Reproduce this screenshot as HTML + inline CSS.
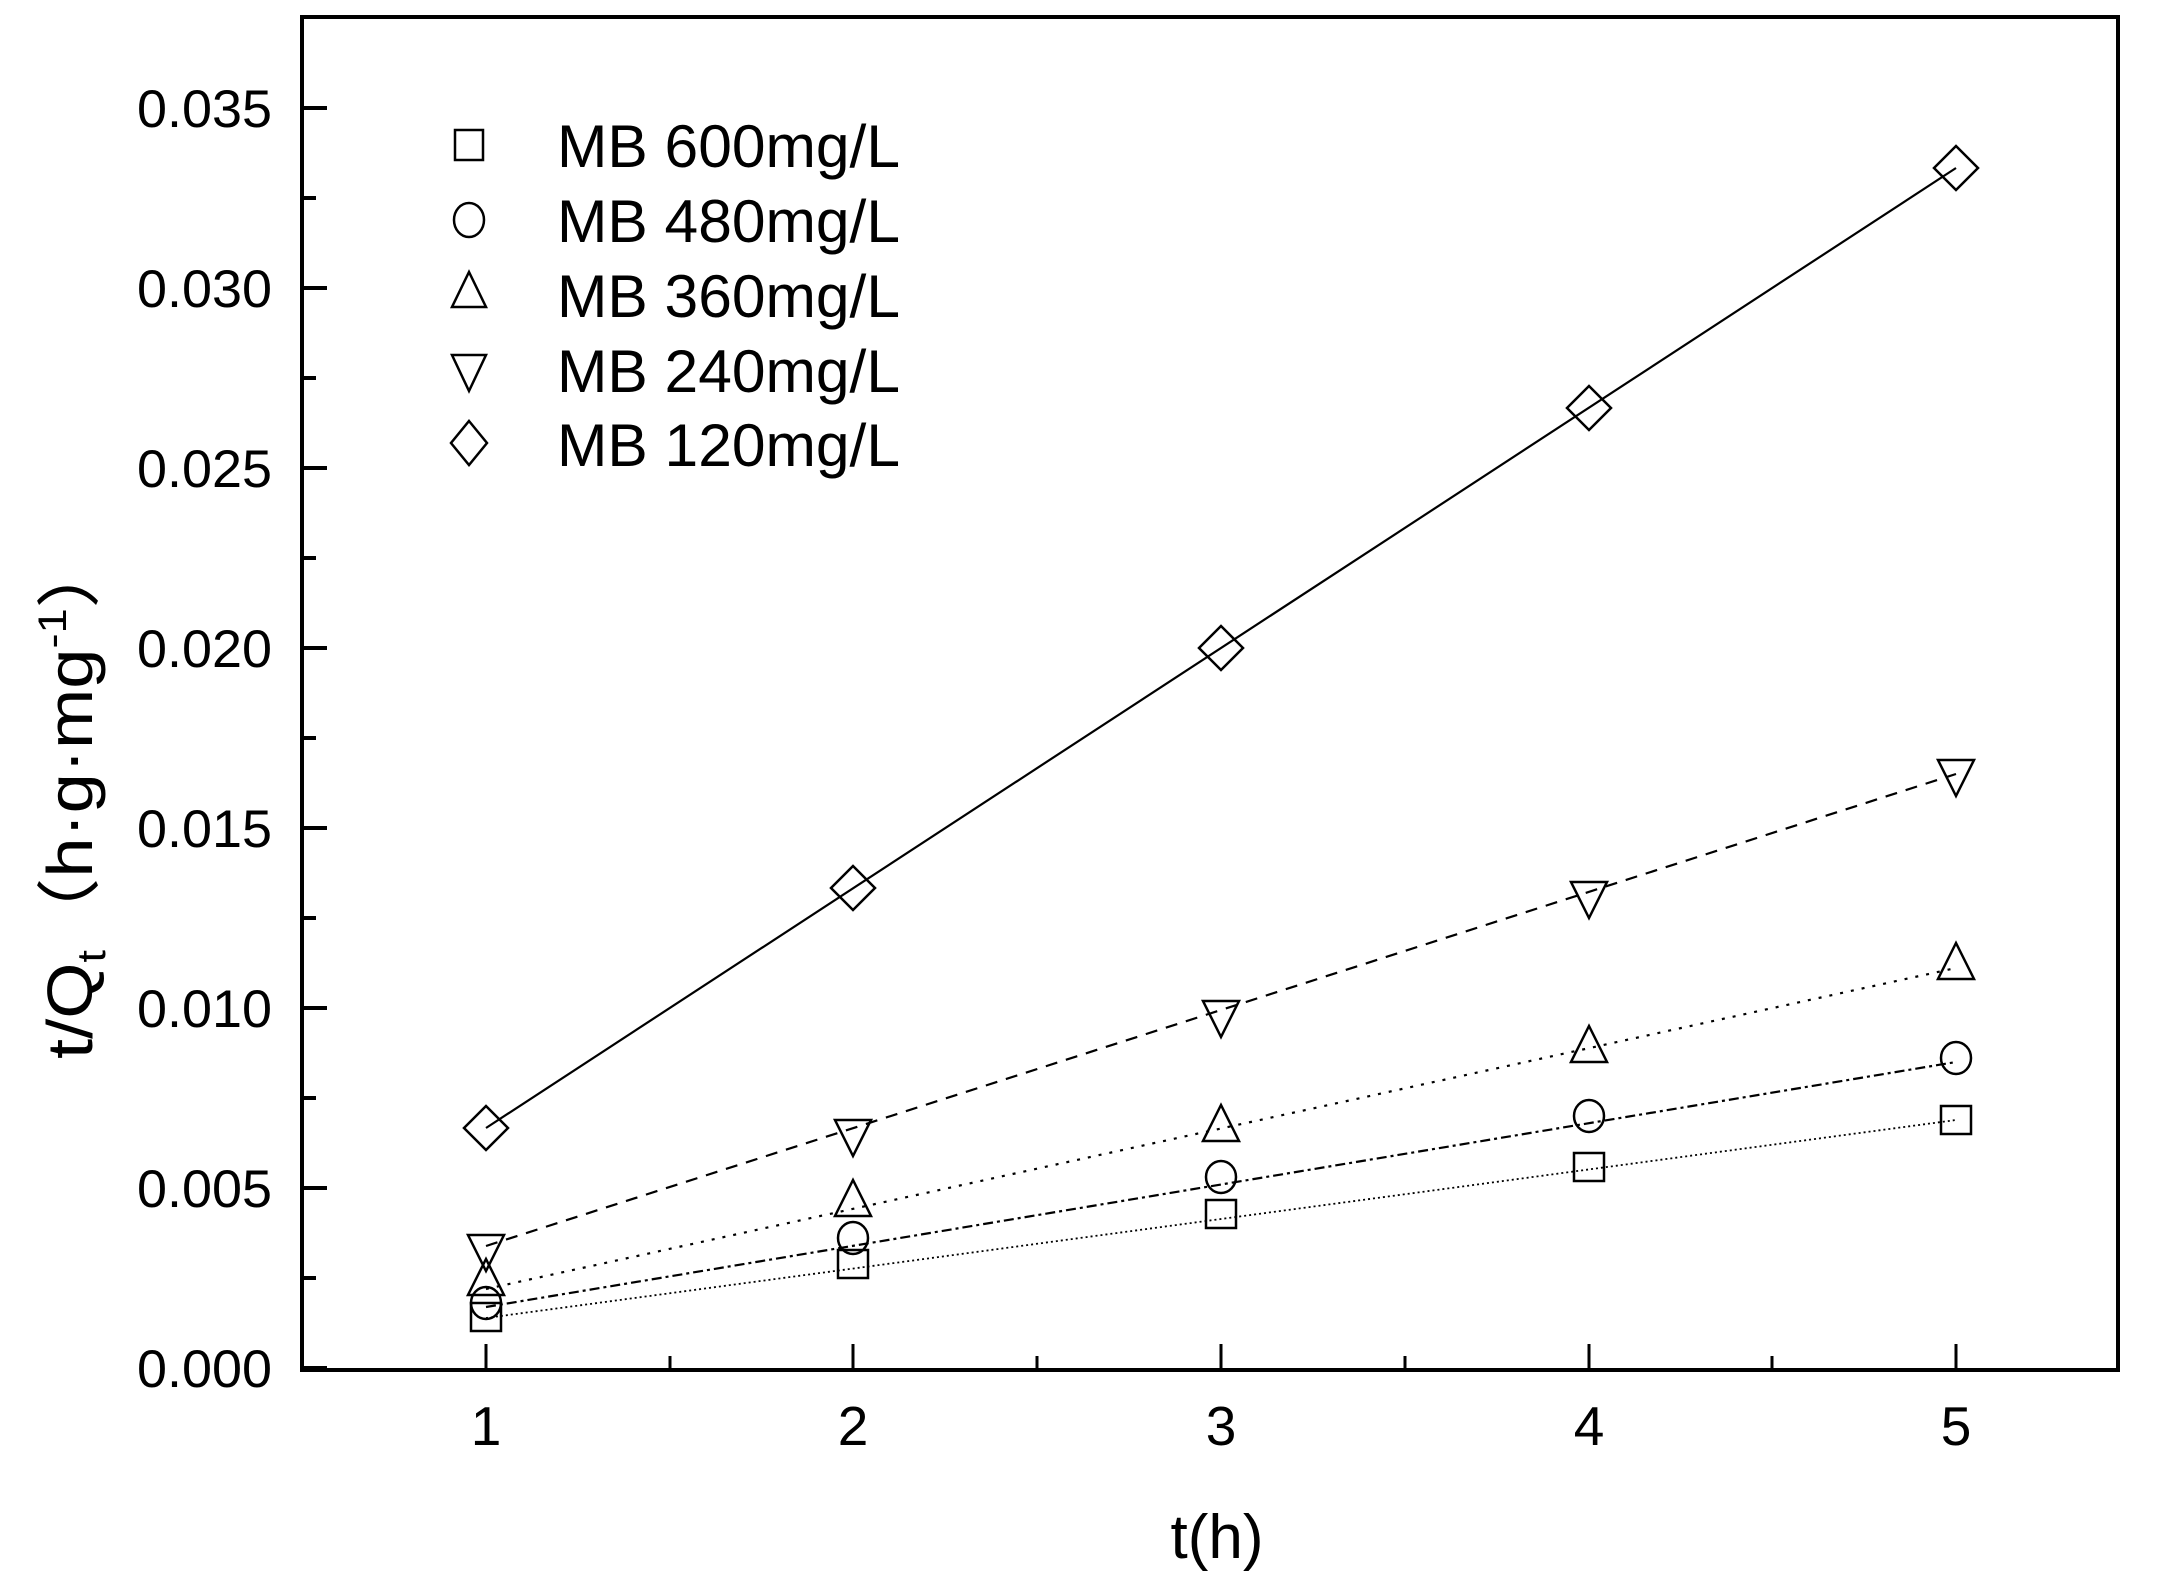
<!DOCTYPE html>
<html><head><meta charset="utf-8"><style>html,body{margin:0;padding:0;background:#fff}svg{display:block}</style></head>
<body>
<svg width="2157" height="1577" viewBox="0 0 2157 1577" xmlns="http://www.w3.org/2000/svg" font-family="Liberation Sans, Arial, sans-serif">
<rect width="2157" height="1577" fill="#fff"/>
<g stroke="#000" fill="none">
<rect x="302" y="17" width="1816" height="1353" stroke-width="4"/>
<g stroke-width="4">
<line x1="302" y1="1368" x2="327" y2="1368"/><line x1="302" y1="1188" x2="327" y2="1188"/>
<line x1="302" y1="1008" x2="327" y2="1008"/><line x1="302" y1="828" x2="327" y2="828"/>
<line x1="302" y1="648" x2="327" y2="648"/><line x1="302" y1="468" x2="327" y2="468"/>
<line x1="302" y1="288" x2="327" y2="288"/><line x1="302" y1="108" x2="327" y2="108"/>
<line x1="302" y1="1278" x2="316" y2="1278"/><line x1="302" y1="1098" x2="316" y2="1098"/>
<line x1="302" y1="918" x2="316" y2="918"/><line x1="302" y1="738" x2="316" y2="738"/>
<line x1="302" y1="558" x2="316" y2="558"/><line x1="302" y1="378" x2="316" y2="378"/>
<line x1="302" y1="198" x2="316" y2="198"/>
</g>
<g stroke-width="3">
<line x1="486" y1="1370" x2="486" y2="1344"/><line x1="853" y1="1370" x2="853" y2="1344"/>
<line x1="1221" y1="1370" x2="1221" y2="1344"/><line x1="1589" y1="1370" x2="1589" y2="1344"/>
<line x1="1956" y1="1370" x2="1956" y2="1344"/>
<line x1="670" y1="1370" x2="670" y2="1356"/><line x1="1037" y1="1370" x2="1037" y2="1356"/>
<line x1="1405" y1="1370" x2="1405" y2="1356"/><line x1="1772" y1="1370" x2="1772" y2="1356"/>
</g>
<line x1="486" y1="1128" x2="1956" y2="168" stroke-width="2.2"/>
<line x1="486" y1="1246" x2="1956" y2="774" stroke-width="2.2" stroke-dasharray="12,9"/>
<line x1="486" y1="1289" x2="1956" y2="968" stroke-width="2.2" stroke-dasharray="3,8"/>
<line x1="486" y1="1307" x2="1956" y2="1062" stroke-width="2.2" stroke-dasharray="10,4,3,4"/>
<line x1="486" y1="1318" x2="1956" y2="1120" stroke-width="1.8" stroke-dasharray="2,3"/>
<g stroke-width="2.5">
<path d="M486 1106 L508 1128 L486 1150 L464 1128 Z"/>
<path d="M853 866 L875 888 L853 910 L831 888 Z"/>
<path d="M1221 626 L1243 648 L1221 670 L1199 648 Z"/>
<path d="M1589 386 L1611 408 L1589 430 L1567 408 Z"/>
<path d="M1956 146 L1978 168 L1956 190 L1934 168 Z"/>
<path d="M468 1235 L504 1235 L486 1271 Z"/>
<path d="M835 1120 L871 1120 L853 1156 Z"/>
<path d="M1203 1001 L1239 1001 L1221 1037 Z"/>
<path d="M1571 882 L1607 882 L1589 918 Z"/>
<path d="M1938 760 L1974 760 L1956 796 Z"/>
<path d="M468 1295 L504 1295 L486 1259 Z"/>
<path d="M835 1216 L871 1216 L853 1180 Z"/>
<path d="M1203 1141 L1239 1141 L1221 1105 Z"/>
<path d="M1571 1062 L1607 1062 L1589 1026 Z"/>
<path d="M1938 979 L1974 979 L1956 943 Z"/>
<ellipse cx="486" cy="1303" rx="15" ry="16"/>
<ellipse cx="853" cy="1238" rx="15" ry="16"/>
<ellipse cx="1221" cy="1177" rx="15" ry="16"/>
<ellipse cx="1589" cy="1116" rx="15" ry="16"/>
<ellipse cx="1956" cy="1058" rx="15" ry="16"/>
<rect x="471" y="1303" width="30" height="28"/>
<rect x="838" y="1250" width="30" height="28"/>
<rect x="1206" y="1200" width="30" height="28"/>
<rect x="1574" y="1153" width="30" height="28"/>
<rect x="1941" y="1106" width="30" height="28"/>
<rect x="455" y="130" width="28" height="30"/>
<ellipse cx="469" cy="220" rx="15" ry="17"/>
<path d="M452 307 L486 307 L469 272 Z"/>
<path d="M452 355 L486 355 L469 391 Z"/>
<path d="M469 421 L487 443 L469 465 L451 443 Z"/>
</g>
</g>
<g fill="#000">
<g font-size="53" text-anchor="end">
<text x="272" y="1387" textLength="135" lengthAdjust="spacingAndGlyphs">0.000</text>
<text x="272" y="1207" textLength="135" lengthAdjust="spacingAndGlyphs">0.005</text>
<text x="272" y="1027" textLength="135" lengthAdjust="spacingAndGlyphs">0.010</text>
<text x="272" y="847" textLength="135" lengthAdjust="spacingAndGlyphs">0.015</text>
<text x="272" y="667" textLength="135" lengthAdjust="spacingAndGlyphs">0.020</text>
<text x="272" y="487" textLength="135" lengthAdjust="spacingAndGlyphs">0.025</text>
<text x="272" y="307" textLength="135" lengthAdjust="spacingAndGlyphs">0.030</text>
<text x="272" y="127" textLength="135" lengthAdjust="spacingAndGlyphs">0.035</text>
</g>
<g font-size="55" text-anchor="middle">
<text x="486" y="1445">1</text><text x="853" y="1445">2</text><text x="1221" y="1445">3</text>
<text x="1589" y="1445">4</text><text x="1956" y="1445">5</text>
</g>
<text x="1217" y="1558" font-size="62" text-anchor="middle">t(h)</text>
<g font-size="60">
<text x="557" y="167" textLength="343" lengthAdjust="spacingAndGlyphs">MB 600mg/L</text>
<text x="557" y="242" textLength="343" lengthAdjust="spacingAndGlyphs">MB 480mg/L</text>
<text x="557" y="317" textLength="343" lengthAdjust="spacingAndGlyphs">MB 360mg/L</text>
<text x="557" y="392" textLength="343" lengthAdjust="spacingAndGlyphs">MB 240mg/L</text>
<text x="557" y="466" textLength="343" lengthAdjust="spacingAndGlyphs">MB 120mg/L</text>
</g>
<text transform="translate(92,1059) rotate(-90)" font-size="64" font-family="Liberation Sans, Noto Sans CJK SC, sans-serif" textLength="523" lengthAdjust="spacingAndGlyphs">t/Q<tspan font-size="40" dy="13">t</tspan><tspan dy="-13">（h·g·mg</tspan><tspan font-size="40" dy="-26">-1</tspan><tspan dy="26">）</tspan></text>
</g>
</svg>
</body></html>
